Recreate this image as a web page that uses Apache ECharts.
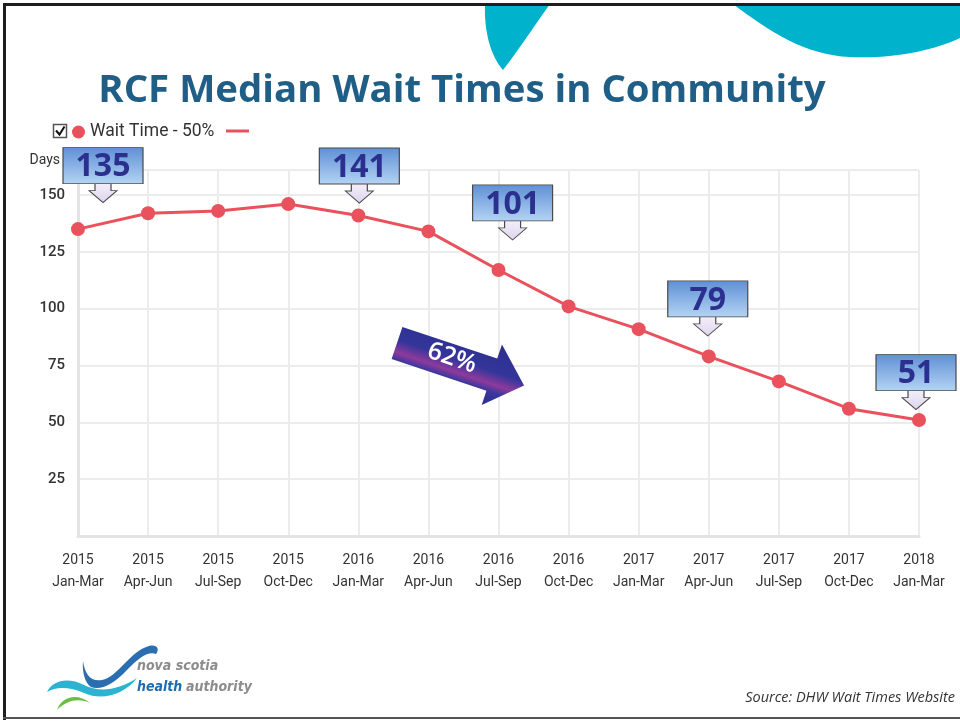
<!DOCTYPE html>
<html>
<head>
<meta charset="utf-8">
<script src="https://cdn.jsdelivr.net/npm/echarts@6/dist/echarts.min.js"></script>
<style>
  html, body { margin: 0; padding: 0; background: #fff; }
  #myChart { width: 960px; height: 721px; }
</style>
</head>
<body>
<div id="myChart"></div>
<script>
// quarters and wait times (days)
var years = ['2015', '2015', '2015', '2015', '2016', '2016', '2016', '2016', '2017', '2017', '2017', '2017', '2018']
var quarters = ['Jan-Mar', 'Apr-Jun', 'Jul-Sep', 'Oct-Dec', 'Jan-Mar', 'Apr-Jun', 'Jul-Sep', 'Oct-Dec', 'Jan-Mar', 'Apr-Jun', 'Jul-Sep', 'Oct-Dec', 'Jan-Mar']
var waitTime = [135, 142, 143, 146, 141, 134, 117, 101, 91, 79, 68, 56, 51]
// callouts: index of the quarter, label shown in the box
var calloutIndex = [0, 4, 7, 9, 12]
var calloutLabel = ['135', '141', '101', '79', '51']
var yTicks = [25, 50, 75, 100, 125, 150]

var red = '#e9525c'
var categories = years.map(function (y, i) { return y + '\n' + quarters[i] })

// where each callout box sits relative to its point (pixels)
var calloutOffset = [[25, -54], [1, -40], [-56, -94], [-1, -48], [-3, -38]]

// decoration shapes (slide background, logo)
var shapes = {
  tealA: 'M485 4 C484 30 490 55 503 70 C515 55 535 25 550 4 Z',
  tealB: 'M733 4 C770 32 805 55 850 57 C895 59 935 50 960 38 L960 4 Z',
  logoBlue: 'M83 661 C85 675 91 682 102 680 C118 677 130 651 149 646 C157 644 160 649 156 654 C147 651 138 659 126 671 C114 684 100 691 91 687 C85 683 82 672 83 661 Z',
  logoTeal: 'M47 692 C53 680 68 677 84 685 C100 693 118 690 137 678 C124 695 102 701 84 693 C70 687 57 686 47 692 Z',
  logoGreen: 'M57 710 C61 697 77 692 90 703 C79 698 67 700 57 710 Z'
}
Object.keys(shapes).forEach(function (k) {
  echarts.graphic.registerShape(k, echarts.graphic.extendPath(shapes[k]))
})

var boxFill = {
  type: 'linear', x: 0, y: 0, x2: 0, y2: 1,
  colorStops: [
    { offset: 0, color: '#5f8fd5' },
    { offset: 0.65, color: '#b2d3f3' },
    { offset: 0.656, color: '#f3eef9' },
    { offset: 1, color: '#ddd5ee' }
  ]
}

var markData = calloutIndex.map(function (idx, k) {
  return {
    coord: [idx, waitTime[idx]],
    value: calloutLabel[k],
    symbolOffset: calloutOffset[k]
  }
})

var arrowFill = {
  type: 'linear', x: 0, y: 0, x2: 0, y2: 1,
  colorStops: [
    { offset: 0, color: '#2b2e8f' },
    { offset: 0.45, color: '#34359a' },
    { offset: 0.64, color: '#8e3a9c' },
    { offset: 0.76, color: '#3a379c' },
    { offset: 1, color: '#2b2e8f' }
  ]
}

var logoText = { fontFamily: 'DejaVu Sans Condensed', fontStyle: 'italic', fontWeight: 'bold', fontSize: 14 }

var myChart = echarts.init(document.getElementById('myChart'))

var option = {
  animation: false,
  backgroundColor: '#fff',
  title: {
    text: 'RCF Median Wait Times in Community',
    left: 457,
    top: 67,
    textAlign: 'center',
    textStyle: {
      fontFamily: 'Open Sans',
      fontWeight: 'bold',
      fontSize: 38.4,
      color: '#1f5f87'
    }
  },
  legend: {
    left: 72,
    top: 123,
    padding: 0,
    icon: 'circle',
    itemWidth: 13,
    itemHeight: 13,
    itemGap: 0,
    textStyle: { fontFamily: 'Roboto', fontSize: 17.5, color: '#333' },
    data: ['Wait Time - 50%']
  },
  grid: {
    left: 78,
    right: 41,
    top: 170,
    bottom: 185
  },
  xAxis: {
    type: 'category',
    boundaryGap: false,
    data: categories,
    axisLine: { lineStyle: { color: '#e4e4e4', width: 3 } },
    axisTick: { show: false },
    axisLabel: {
      margin: 13,
      fontFamily: 'Roboto',
      fontSize: 14,
      lineHeight: 22.5,
      color: '#333'
    },
    splitLine: { show: true, lineStyle: { color: '#ececec', width: 2 } }
  },
  yAxis: {
    type: 'value',
    min: 0,
    max: 161,
    interval: 25,
    name: 'Days',
    nameLocation: 'end',
    nameGap: 3,
    nameTextStyle: { fontFamily: 'Roboto', fontSize: 14, color: '#333', align: 'right', padding: [0, 18, 0, 0] },
    axisLine: { show: true, lineStyle: { color: '#e4e4e4', width: 3 } },
    axisTick: { show: false },
    axisLabel: {
      margin: 13,
      fontFamily: 'Roboto',
      fontSize: 15,
      fontWeight: 500,
      color: '#333',
      formatter: function (v) { return yTicks.indexOf(v) >= 0 ? v : '' }
    },
    splitLine: { lineStyle: { color: '#ececec', width: 2 } }
  },
  series: [
    {
      name: 'Wait Time - 50%',
      type: 'line',
      data: waitTime,
      symbol: 'circle',
      symbolSize: 14,
      itemStyle: { color: red },
      lineStyle: { color: red, width: 3 },
      markPoint: {
        symbol: 'path://M0 0H80V36H0Z M32 36V43H26L40 55L54 43H48V36Z',
        symbolSize: [80, 55],
        itemStyle: { color: boxFill, borderColor: '#4a4a4a', borderWidth: 1 },
        label: {
          show: true,
          offset: [0, -8],
          fontFamily: 'Open Sans',
          fontWeight: 'bold',
          fontSize: 32,
          color: '#2b2f8e'
        },
        data: markData
      }
    }
  ],
  graphic: [
    // teal shapes at the top
    { type: 'tealA', z: 0, style: { fill: '#00b2cb' } },
    { type: 'tealB', z: 0, style: { fill: '#00b2cb' } },
    // frame
    { type: 'rect', z: 10, shape: { x: 3, y: 3, width: 957, height: 3 }, style: { fill: '#1e1e1e' } },
    { type: 'rect', z: 10, shape: { x: 3, y: 3, width: 3, height: 717 }, style: { fill: '#1e1e1e' } },
    { type: 'rect', z: 10, shape: { x: 3, y: 717, width: 957, height: 2 }, style: { fill: '#555' } },
    // legend checkbox and trailing line
    { type: 'rect', shape: { x: 53.5, y: 124.5, width: 13, height: 13 }, style: { fill: '#fff', stroke: '#555', lineWidth: 1.5 } },
    { type: 'polyline', shape: { points: [[56, 130.5], [59.5, 134.5], [64.5, 126.5]] }, style: { stroke: '#111', lineWidth: 2, fill: null } },
    { type: 'line', shape: { x1: 226, y1: 131, x2: 249, y2: 131 }, style: { stroke: red, lineWidth: 3 } },
    // 62% arrow
    {
      type: 'group',
      x: 397,
      y: 343,
      z: 100,
      rotation: -18.5 * Math.PI / 180,
      children: [
        {
          type: 'polygon',
          z: 100,
          shape: { points: [[0, -17], [100, -17], [100, -32], [134, 0], [100, 32], [100, 17], [0, 17]] },
          style: { fill: arrowFill }
        },
        {
          type: 'text',
          z: 101,
          x: 57,
          y: -3,
          style: {
            text: '62%',
            fill: '#fff',
            fontFamily: 'Open Sans',
            fontWeight: 600,
            fontSize: 25,
            align: 'center',
            verticalAlign: 'middle'
          }
        }
      ]
    },
    // logo
    { type: 'logoBlue', style: { fill: '#2a6db0' } },
    { type: 'logoTeal', style: { fill: '#2bb3d1' } },
    { type: 'logoGreen', style: { fill: '#6cbd45' } },
    { type: 'text', x: 137, y: 659, style: Object.assign({ text: 'nova scotia', fill: '#8c8c8c' }, logoText) },
    { type: 'text', x: 137, y: 680, style: Object.assign({ text: 'health', fill: '#1c6cb2' }, logoText) },
    { type: 'text', x: 186, y: 680, style: Object.assign({ text: 'authority', fill: '#8c8c8c' }, logoText) },
    // source
    {
      type: 'text',
      x: 955,
      y: 698,
      style: {
        text: 'Source: DHW Wait Times Website',
        fill: '#333',
        fontFamily: 'Open Sans',
        fontStyle: 'italic',
        fontSize: 14.5,
        align: 'right',
        verticalAlign: 'middle'
      }
    }
  ]
}

myChart.setOption(option, true)
</script>
</body>
</html>
